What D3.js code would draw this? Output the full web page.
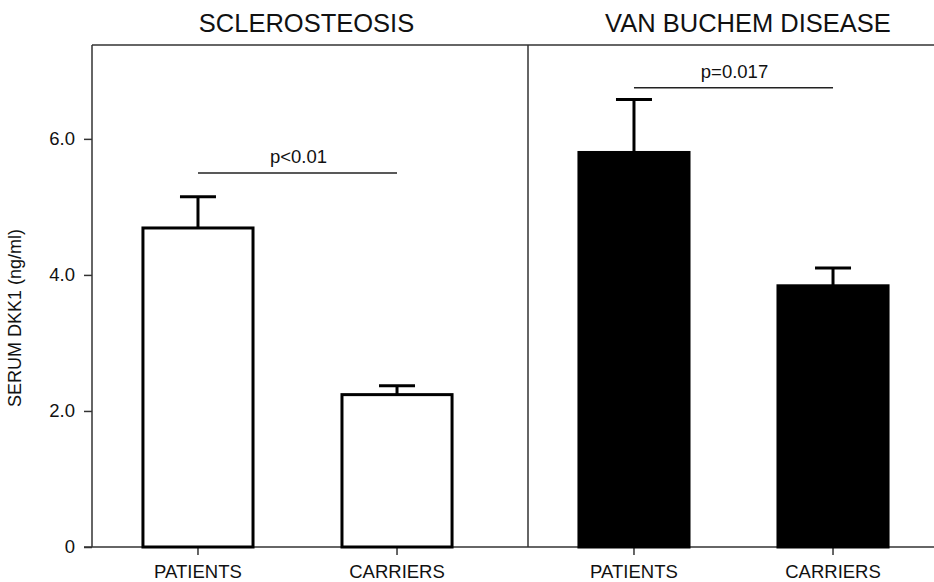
<!doctype html>
<html>

<head>
	<title>Serum DKK1</title>
	<script src="https://d3js.org/d3.v7.min.js"></script>
	<style>
		body { margin: 0; background: #fff; }
		text { font-family: "Liberation Sans", Arial, sans-serif; fill: #111; }
	</style>
</head>

<body>

	<script>

        // data
        var panels = ["SCLEROSTEOSIS", "VAN BUCHEM DISEASE"];
        var groups = ["PATIENTS", "CARRIERS"];
        var means = [[4.69, 2.24], [5.80, 3.84]];
        var upperErr = [[5.15, 2.37], [6.58, 4.10]];
        var pValues = ["p<0.01", "p=0.017"];
        var pLevels = [5.5, 6.75];
        var yTicks = [0, 2, 4, 6];

        var width = 934;
        var height = 582;
        var plotLeft = 92, plotRight = 934, dividerX = 528;
        var plotTop = 45, plotBottom = 547;

        var svg = d3.select("body")
                .append("svg")
                .attr("width", width)
                .attr("height", height);

        var y = d3.scaleLinear()
                    .domain([0, 7.38])
                    .range([plotBottom, plotTop]);

        // one band scale per panel
        var panelStart = [plotLeft, dividerX];
        var xScales = panelStart.map(function(s) {
            return d3.scaleBand()
                        .domain(groups)
                        .range([s, s + 411])
                        .paddingInner(0.447)
                        .paddingOuter(0.256);
        });
        var fills = ["#fff", "#000"];

        // y axis
        var yAxis = d3.axisLeft(y)
                        .tickValues(yTicks)
                        .tickSize(8)
                        .tickPadding(9)
                        .tickFormat(function(d) { return d === 0 ? "0" : d3.format(".1f")(d); });

        var gy = svg.append("g")
                .attr("transform", "translate(" + plotLeft + ",0)")
                .call(yAxis);
        gy.select(".domain").remove();
        gy.selectAll("line").attr("stroke", "#333").attr("stroke-width", 1.5);
        gy.selectAll("text").style("font-size", "18.5px").attr("fill", "#111");

        // frame lines
        svg.append("line")
            .attr("x1", plotLeft).attr("x2", plotLeft)
            .attr("y1", plotTop).attr("y2", plotBottom)
            .attr("stroke", "#333").attr("stroke-width", 1.5);
        svg.append("line")
            .attr("x1", dividerX).attr("x2", dividerX)
            .attr("y1", plotTop).attr("y2", plotBottom)
            .attr("stroke", "#333").attr("stroke-width", 1.5);
        svg.append("line")
            .attr("x1", plotLeft).attr("x2", plotRight)
            .attr("y1", plotTop).attr("y2", plotTop)
            .attr("stroke", "#333").attr("stroke-width", 1.5);
        svg.append("line")
            .attr("x1", plotLeft - 8).attr("x2", plotRight)
            .attr("y1", plotBottom).attr("y2", plotBottom)
            .attr("stroke", "#333").attr("stroke-width", 1.5);

        // y label
        svg.append("text")
            .attr("transform", "translate(21,318) rotate(-90)")
            .attr("text-anchor", "middle")
            .style("font-size", "18px")
            .text("SERUM DKK1 (ng/ml)");

        var titleX = [306.5, 748];

        panels.forEach(function(name, p) {
            var x = xScales[p];
            var g = svg.append("g");

            var xAxis = d3.axisBottom(x)
                            .tickSize(8)
                            .tickPadding(10);
            var gx = g.append("g")
                    .attr("transform", "translate(0," + plotBottom + ")")
                    .call(xAxis);
            gx.select(".domain").remove();
            gx.selectAll("line").attr("stroke", "#333").attr("stroke-width", 1.5);
            gx.selectAll("text").style("font-size", "18.5px").attr("fill", "#111");

            var rows = groups.map(function(gname, i) {
                return { group: gname, mean: means[p][i], err: upperErr[p][i] };
            });

            // error bars (drawn first, bar covers the lower part)
            g.selectAll(".err")
                .data(rows)
                .enter()
                    .append("line")
                    .attr("x1", function(d) { return x(d.group) + x.bandwidth() / 2; })
                    .attr("x2", function(d) { return x(d.group) + x.bandwidth() / 2; })
                    .attr("y1", function(d) { return y(d.mean); })
                    .attr("y2", function(d) { return y(d.err); })
                    .attr("stroke", "#000")
                    .attr("stroke-width", 3);

            g.selectAll(".cap")
                .data(rows)
                .enter()
                    .append("line")
                    .attr("x1", function(d) { return x(d.group) + x.bandwidth() / 2 - 18; })
                    .attr("x2", function(d) { return x(d.group) + x.bandwidth() / 2 + 18; })
                    .attr("y1", function(d) { return y(d.err); })
                    .attr("y2", function(d) { return y(d.err); })
                    .attr("stroke", "#000")
                    .attr("stroke-width", 3);

            g.selectAll("rect")
                .data(rows)
                .enter()
                    .append("rect")
                    .attr("x", function(d) { return x(d.group); })
                    .attr("width", x.bandwidth())
                    .attr("y", function(d) { return y(d.mean); })
                    .attr("height", function(d) { return y(0) - y(d.mean); })
                    .attr("fill", fills[p])
                    .attr("stroke", "#000")
                    .attr("stroke-width", 3);

            // significance line
            var c0 = x(groups[0]) + x.bandwidth() / 2;
            var c1 = x(groups[1]) + x.bandwidth() / 2;
            g.append("line")
                .attr("x1", c0).attr("x2", c1)
                .attr("y1", y(pLevels[p])).attr("y2", y(pLevels[p]))
                .attr("stroke", "#222").attr("stroke-width", 1.5);
            g.append("text")
                .attr("x", (c0 + c1) / 2 + 1)
                .attr("y", y(pLevels[p]) - 10)
                .attr("text-anchor", "middle")
                .style("font-size", "18.5px")
                .text(pValues[p]);

            // panel title
            svg.append("text")
                .attr("x", titleX[p])
                .attr("y", 32)
                .attr("text-anchor", "middle")
                .style("font-size", "25.5px")
                .text(name);
        });

	</script>
</body>

</html>
